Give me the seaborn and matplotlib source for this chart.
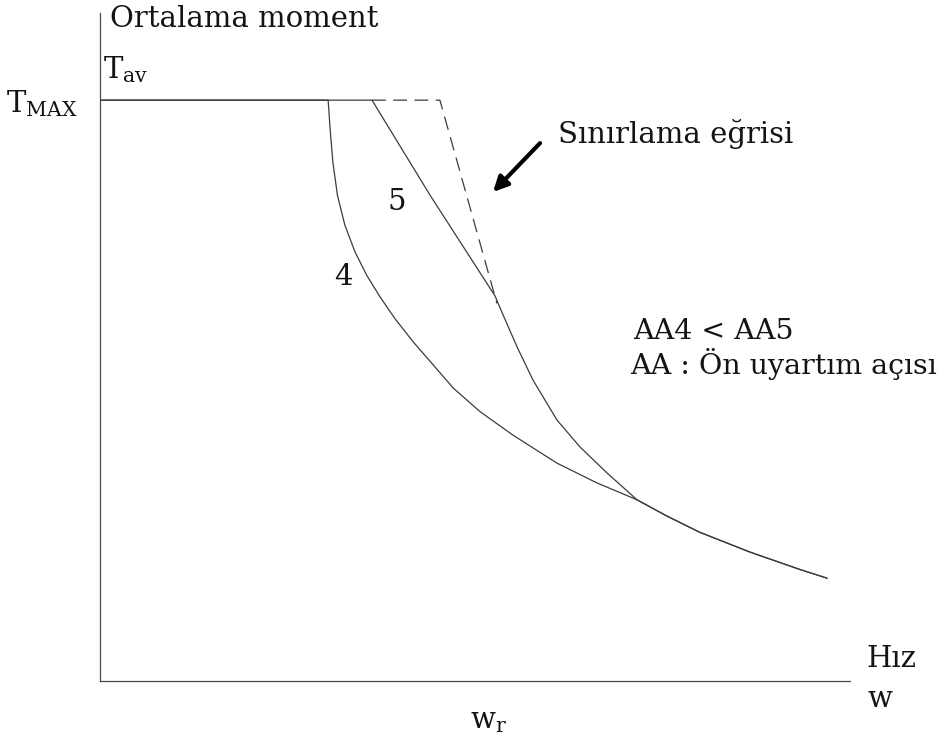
import matplotlib
matplotlib.use("Agg")
import matplotlib.pyplot as plt
import numpy as np
import pandas as pd
import seaborn as sns

# Speed is in units of the rated speed w_r, torque in units of T_MAX.
W_R = 1.0
T_MAX = 1.0

# Curve 4 (smaller advance angle): breaks away from T_MAX early
speed_4 = [0.0, 0.588, 0.593, 0.600, 0.612, 0.631, 0.657, 0.687, 0.722,
           0.760, 0.807, 0.859, 0.911, 0.979, 1.065, 1.178, 1.281]
torque_4 = [1.0, 1.0, 0.951, 0.894, 0.836, 0.785, 0.739, 0.699, 0.661,
            0.624, 0.584, 0.544, 0.504, 0.464, 0.423, 0.375, 0.341]

# Curve 5 (larger advance angle): holds T_MAX longer, then falls to the limit
speed_5 = [0.0, 0.701, 0.851, 1.018, 1.039, 1.075, 1.116, 1.178, 1.237, 1.307]
torque_5 = [1.0, 1.0, 0.836, 0.663, 0.630, 0.575, 0.518, 0.449, 0.403, 0.358]

# Common high-speed branch shared by both curves
speed_tail = [1.384, 1.461, 1.546, 1.675, 1.804, 1.874]
torque_tail = [0.312, 0.284, 0.256, 0.222, 0.192, 0.177]

# Limiting curve (dashed)
speed_lim = [0.701, 0.876, 1.023]
torque_lim = [1.0, 1.0, 0.650]

X_MAX = 1.933
Y_MAX = 1.150

sns.set_theme(style="white")
plt.rcParams["font.family"] = ["DejaVu Serif"]
plt.rcParams["mathtext.fontset"] = "dejavuserif"

FS = 21
INK = "#141414"
LINE = "#3c3c3c"

fig = plt.figure(figsize=(9.47, 7.40), dpi=100)
ax = fig.add_axes([0.1056, 0.0797, 0.792, 0.9027])

curves = pd.concat([
    pd.DataFrame({"speed": speed_4 + speed_tail,
                  "torque": torque_4 + torque_tail, "curve": "4"}),
    pd.DataFrame({"speed": speed_5 + speed_tail,
                  "torque": torque_5 + torque_tail, "curve": "5"}),
], ignore_index=True)

sns.lineplot(data=curves, x="speed", y="torque", units="curve",
             estimator=None, sort=False, color=LINE, linewidth=0.9,
             legend=False, ax=ax)

limit = pd.DataFrame({"speed": speed_lim, "torque": torque_lim})
sns.lineplot(data=limit, x="speed", y="torque", sort=False, estimator=None,
             color=LINE, linewidth=0.9, ax=ax)
ax.lines[-1].set_dashes((11, 6))

ax.set_xlim(0, X_MAX)
ax.set_ylim(0, Y_MAX)
ax.set_xlabel("")
ax.set_ylabel("")

for side in ("top", "right"):
    ax.spines[side].set_visible(False)
for side in ("left", "bottom"):
    ax.spines[side].set_color("#4a4a4a")
    ax.spines[side].set_linewidth(0.9)

ax.set_xticks([W_R], labels=[r"$\mathrm{w_r}$"])
ax.tick_params(axis="x", direction="in", length=19, width=0.9,
               color="#3a3a3a", pad=19, labelsize=FS, labelcolor=INK)
ax.set_yticks([T_MAX], labels=[r"$\mathrm{T_{MAX}}$"])
ax.tick_params(axis="y", length=0, pad=16, labelsize=FS, labelcolor=INK)

# Axis titles
ax.text(0.026, 1.126, "Ortalama moment", fontsize=FS, color=INK,
        va="baseline", ha="left", clip_on=False)
ax.text(0.008, 1.038, r"$\mathrm{T_{av}}$", fontsize=FS, color=INK,
        va="baseline", ha="left", clip_on=False)
ax.text(1.974, 0.024, "Hız", fontsize=FS, color=INK,
        va="baseline", ha="left", clip_on=False)
ax.text(1.979, -0.045, "w", fontsize=FS, color=INK,
        va="baseline", ha="left", clip_on=False)

# Curve labels
ax.text(0.765, 0.824, "5", fontsize=FS, color=INK, ha="center", va="center")
ax.text(0.626, 0.695, "4", fontsize=FS, color=INK, ha="center", va="center")

# Limiting-curve callout
ax.annotate("", xy=(1.013, 0.842), xytext=(1.134, 0.926),
            arrowprops=dict(arrowstyle="-|>", color="black", lw=3,
                            mutation_scale=22, shrinkA=0, shrinkB=0))
ax.text(1.180, 0.926, "Sınırlama eğrisi", fontsize=FS, color=INK,
        va="baseline", ha="left")

# Notes
ax.text(1.374, 0.588, "AA4 < AA5", fontsize=20.5, color=INK,
        va="baseline", ha="left", clip_on=False)
ax.text(1.366, 0.528, "AA : Ön uyartım açısı", fontsize=20.5, color=INK,
        va="baseline", ha="left", clip_on=False)

fig.savefig("out.png", dpi=100, facecolor="white")
